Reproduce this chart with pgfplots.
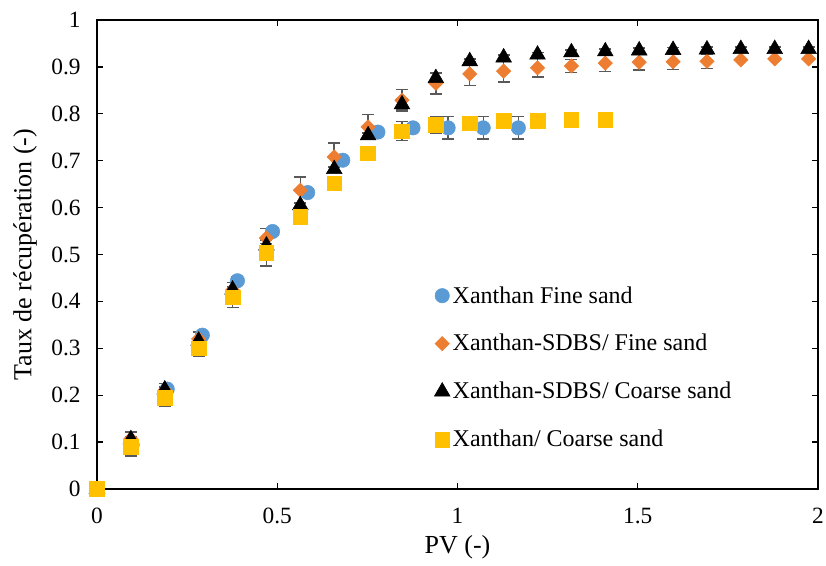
\documentclass[border=0pt]{standalone}
\usepackage{fontspec}
\setmainfont{Liberation Serif}
\usepackage{pgfplots}
\pgfplotsset{compat=1.18}
\definecolor{cblue}{HTML}{5B9BD5}
\definecolor{corange}{HTML}{ED7D31}
\definecolor{cyellow}{HTML}{FFC000}
\definecolor{cerr}{HTML}{595959}
\begin{document}
\begin{tikzpicture}
\path[use as bounding box] (-72.75pt,-57.75pt) rectangle (546.75pt,366.75pt);
\begin{axis}[
  at={(0,0)}, anchor=south west,
  scale only axis, width=540.75pt, height=351.75pt,
  xmin=0, xmax=2, ymin=0, ymax=1,
  xtick={0,0.5,1,1.5,2}, xticklabels={0,0.5,1,1.5,2},
  ytick={0,0.1,...,1.0}, yticklabels={0,0.1,0.2,0.3,0.4,0.5,0.6,0.7,0.8,0.9,1},
  tick align=inside, major tick length=4.5pt,
  tick style={black, line width=1pt},
  axis line style={black, line width=1.1pt},
  /pgf/number format/assume math mode=true,
  tick label style={font=\fontsize{17.5}{20}\selectfont},
  xticklabel style={yshift=-10.5pt},
  yticklabel style={xshift=-8.8pt},
  label style={font=\fontsize{19.5}{22}\selectfont},
  xlabel={PV (-)},
  ylabel={Taux de récupération (-)},
  xlabel style={at={(axis description cs:0.5,0)}, anchor=center, yshift=-43.5pt},
  ylabel style={at={(axis description cs:0,0.5)}, anchor=center, yshift=54pt},
  clip=false,
  legend cell align=left,
  legend style={at={(rel axis cs:0.462,0.444)}, anchor=north west, draw=none, fill=none,
    font=\fontsize{18}{20}\selectfont, row sep=18pt},
  error bars/y dir=both, error bars/y explicit,
  error bars/error mark=|,
  error bars/error bar style={color=cerr, line width=1.1pt},
  error bars/error mark options={color=cerr, mark size=4.5pt, line width=1.1pt},
]
\addplot[only marks, mark=*, mark size=5.4pt, color=cblue, fill=cblue]
 table[x=x, y=y, y error=e] {
x y e
0 0 0
0.0974 0.094 0.01
0.1948 0.213 0.008
0.2922 0.328 0.008
0.3896 0.444 0.008
0.4870 0.549 0.008
0.5844 0.632 0.008
0.6818 0.701 0.008
0.7792 0.761 0.008
0.8766 0.770 0.008
0.9740 0.770 0.024
1.0714 0.770 0.024
1.1688 0.770 0.024
};
\addlegendentry{Xanthan Fine sand}
\addplot[only marks, mark=square*, mark size=3.8pt, mark options={rotate=45}, color=corange, fill=corange]
 table[x=x, y=y, y error=e] {
x y e
0 0 0
0.094 0.107 0.015
0.188 0.210 0.015
0.282 0.320 0.015
0.376 0.424 0.016
0.470 0.535 0.02
0.564 0.637 0.028
0.658 0.708 0.03
0.752 0.772 0.027
0.846 0.829 0.023
0.940 0.865 0.023
1.034 0.885 0.025
1.128 0.891 0.023
1.222 0.898 0.02
1.316 0.902 0.014
1.410 0.908 0.018
1.504 0.910 0.017
1.598 0.911 0.016
1.692 0.912 0.015
1.786 0.915 0
1.880 0.917 0
1.974 0.917 0
};
\addlegendentry{Xanthan-SDBS/ Fine sand}
\addplot[only marks, mark=triangle*, mark size=6.8pt, color=black, fill=black]
 table[x=x, y=y, y error=e] {
x y e
0 0 0
0.094 0.106 0.005
0.188 0.212 0.005
0.282 0.316 0.005
0.376 0.425 0.005
0.470 0.519 0.005
0.564 0.605 0.005
0.658 0.682 0.005
0.752 0.754 0.005
0.846 0.820 0.012
0.940 0.876 0.01
1.034 0.912 0.005
1.128 0.920 0.005
1.222 0.926 0.005
1.316 0.931 0.005
1.410 0.933 0.005
1.504 0.935 0.005
1.598 0.936 0.005
1.692 0.937 0.005
1.786 0.938 0.004
1.880 0.938 0.004
1.974 0.938 0.004
};
\addlegendentry{Xanthan-SDBS/ Coarse sand}
\addplot[only marks, mark=square*, mark size=5.5pt, color=cyellow, fill=cyellow]
 table[x=x, y=y, y error=e] {
x y e
0 0 0
0.094 0.090 0.02
0.188 0.194 0.018
0.282 0.300 0.018
0.376 0.409 0.022
0.470 0.503 0.028
0.564 0.580 0.01
0.658 0.652 0.01
0.752 0.716 0.01
0.846 0.763 0.02
0.940 0.776 0.018
1.034 0.780 0.01
1.128 0.785 0.01
1.222 0.785 0.01
1.316 0.787 0.01
1.410 0.787 0.008
};
\addlegendentry{Xanthan/ Coarse sand}
\end{axis}
\end{tikzpicture}
\end{document}
